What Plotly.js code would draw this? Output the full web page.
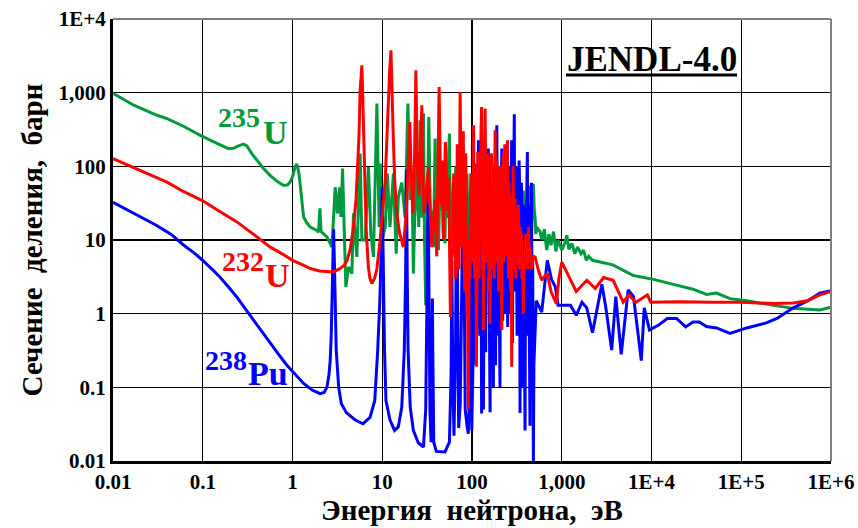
<!DOCTYPE html>
<html><head><meta charset="utf-8">
<script src="https://cdn.plot.ly/plotly-3.0.1.min.js"></script>
<style>html,body{margin:0;padding:0;background:#fff;}#chart{width:858px;height:528px;}</style>
</head><body><div id="chart"></div>
<script>
// ---- data: [neutron energy (eV), fission cross-section (barn)] ----
const u235Points = [
[0.01,980],[0.017,675],[0.031,493],[0.04,445],[0.061,350],[0.094,263],[0.144,205],[0.17,185],[0.194,174],[0.22,176],
[0.25,190],[0.285,200],[0.31,190],[0.35,150],[0.4,121],[0.47,95],[0.566,75],[0.68,62],[0.795,55],[0.88,56],
[0.94,61],[1.0,72],[1.05,90],[1.1,108],[1.14,100],[1.18,80],[1.22,55],[1.28,28],[1.33,20.5],[1.45,17],
[1.58,15],[1.87,13.5],[1.95,12.8],[2.02,27],[2.08,13],[2.42,11],[2.63,9.0],[2.75,8],[2.99,52],[3.17,23],
[3.34,52],[3.46,20.5],[3.61,93],[3.76,10],[3.93,2.3],[4.21,4.3],[4.59,3.5],[4.78,23],[5.21,5.9],[5.67,149],
[5.93,10],[6.46,10],[7.02,98],[7.46,12],[7.98,5.9],[8.71,711],[9.24,15],[9.48,109],[9.9,10],[10.8,15],
[11.4,80],[12.2,15],[13.3,80],[14.3,6.5],[15.1,38],[16.5,60],[18.0,20],[19.3,711],[20.5,35],[21.5,60],
[22.2,3.5],[23.0,20],[24.3,93],[25.5,15],[26.4,422],[27.6,20],[28.8,525],[29.6,10],[30.5,1.3],[31.4,5],
[33.0,468],[34.5,15],[35.6,25],[37.2,8],[38.8,238],[40.5,20],[42.3,7.3],[44,60],[45,25],[46,80],
[47,30],[48,12],[49,40],[50,9],[51,50],[52,100],[53,20],[54,30],[55,150],[56,278],
[57,40],[58,15],[59.6,8],[61,30],[62,60],[63,15],[64,20],[65,70],[66,100],[67,25],
[68,12],[69.5,60],[71,134],[72.5,30],[74,20],[75.5,70],[77,40],[78.5,15],[80,10],[82,50],
[84,60],[86,20],[88,80],[89.5,20],[91,1.5],[93,20],[95,40],[97.5,60],[100,20],[102.5,50],
[105,80],[107.5,30],[110,65],[112.5,30],[115,15],[117.5,50],[120,90],[122.5,25],[125,20],[127.5,60],
[130,70],[132.5,20],[135,10],[138,50],[142,80],[145,30],[148,20],[151,60],[155,90],[157.5,30],
[160,15],[164,50],[168,60],[171.5,20],[175,12],[178.5,50],[182,80],[186,30],[190,20],[194,70],
[198,60],[201.5,20],[205,10],[208.5,40],[212,70],[216,30],[220,15],[225,60],[230,50],[235,20],
[240,12],[245,50],[250,60],[257,30],[265,80],[272,40],[280,20],[287,50],[295,60],[305,25],
[315,52],[322,25],[330,15],[340,40],[350,45],[361,20],[373,47],[381,25],[390,15],[400,30],
[410,35],[418,15],[425,20],[434,35],[443,55],[451,20],[460,13],[471,30],[483,58],[494,25],
[505,20],[515,12],[527,15],[573,13],[600,10],[640,14],[680,7.3],[720,12],[760,8.5],[810,13],
[860,7],[910,10],[1000,7.3],[1080,9],[1140,11.6],[1200,7.5],[1300,9],[1400,6.5],[1500,8],[1640,6.5],
[1750,7.3],[1880,5.3],[2000,6],[2200,5.3],[3700,4.6],[6300,3.3],[10500,2.92],[17500,2.5],[29000,2.15],[41000,1.82],
[53000,1.9],[75000,1.6],[115000,1.5],[227000,1.3],[380000,1.18],[752000,1.12],[1000000,1.22]
];

const u232Points = [
[0.01,127],[0.015,103],[0.02,88],[0.03,72],[0.04,61],[0.06,46],[0.1,34],[0.15,25],[0.24,17.6],[0.35,12.5],
[0.45,10],[0.566,8],[0.8,6.3],[1.0,5.3],[1.3,4.6],[1.58,4.1],[2.0,3.8],[2.63,3.7],[3.0,3.8],[3.4,4.1],
[3.8,4.6],[4.05,5.3],[4.4,7.5],[4.78,15],[5.1,35],[5.3,80],[5.5,250],[5.67,1050],[5.8,2000],[5.93,2350],
[6.05,1000],[6.2,226],[6.4,50],[6.6,15],[7.0,4.3],[7.3,3],[7.66,2.56],[8.2,3],[8.7,4],[9.1,6],
[9.48,10],[10.1,25],[10.8,65],[11.2,200],[11.6,640],[12.1,2000],[12.5,3760],[12.8,1000],[13.3,226],[13.8,60],
[14.5,23],[15.5,13],[16.5,10],[17.2,8],[18.6,25],[19.6,150],[20.3,400],[21.0,80],[22.0,23],[22.8,100],
[23.7,2010],[24.6,100],[25.6,40],[26.6,150],[27.6,674],[28.5,60],[29.3,23],[30.6,40],[32.7,98],[34.5,20],
[35.6,8],[37.5,20],[38.8,35],[40.5,6],[43,1190],[45,30],[46.5,120],[48,10],[50.5,214],[53,25],
[55,70],[57.5,0.9],[59,5],[61,8],[62.5,80],[64,50],[65.5,3],[67,5],[68.5,200],[70,100],
[71.5,4],[73.7,1020],[75.5,20],[77,8],[78.5,100],[80,300],[81.5,5],[83,2],[85,150],[87,20],
[89,2],[91,0.05],[93,10],[95,3],[97,80],[99,40],[101,5],[104,360],[107,3],[108.5,90],
[110,50],[112,0.19],[114,20],[116,157],[118,10],[120,3],[122,100],[124,20],[126,300],[128,640],
[131,4],[132.5,50],[134,0.6],[137,30],[140,608],[143,20],[145,5],[147.5,80],[150,150],[152.5,10],
[155,2],[157,30],[159,0.73],[161,8],[163,60],[165,150],[167,4],[169.5,40],[172,100],[174.5,10],
[177,3],[179,80],[181,308],[183.5,10],[186,5],[189,120],[192,80],[195,10],[198,2],[201,40],
[204,24],[207,100],[210,3],[212.5,15],[215,0.6],[217.5,30],[220,50],[223,150],[226,5],[229,60],
[232,200],[235,20],[238,6],[241,100],[244,80],[246,150],[248,226],[251,20],[255,3],[258,60],
[262,30],[266,8],[270,2],[273,20],[277,0.19],[281,40],[285,20],[288,100],[292,4],[297,15],
[302,36],[306,8],[310,3],[314,25],[318,12],[323,5],[329,30],[334,10],[340,4],[345,15],
[350,8],[355,12],[360,3],[366,6],[373,1.0],[380,4],[390,6],[398,12],[407,10],[416,4],
[425,15],[435,6],[445,8],[460,4],[480,6],[505,5.9],[545,4],[598,2.84],[640,3.2],[691,3.5],
[760,2],[870,1.37],[930,3],[1000,5],[1450,2.0],[1900,2.84],[2360,2.2],[2930,3.1],[3740,2.84],[4840,1.43],
[5600,1.8],[6700,1.43],[9000,1.8],[9800,1.43],[20000,1.45],[50000,1.43],[100000,1.43],[230000,1.37],[380000,1.4],[550000,1.5],
[750000,1.8],[1000000,2.0]
];

const pu238Points = [
[0.01,32.5],[0.015,25],[0.02,21],[0.03,16],[0.045,11.8],[0.06,8.7],[0.08,6.7],[0.1,5.3],[0.13,3.9],[0.157,3.1],
[0.2,2.2],[0.24,1.68],[0.3,1.15],[0.367,0.82],[0.45,0.58],[0.565,0.39],[0.7,0.28],[0.866,0.2],[1.05,0.155],[1.33,0.113],
[1.65,0.092],[2.03,0.082],[2.25,0.085],[2.42,0.1],[2.55,0.15],[2.63,0.23],[2.7,0.5],[2.75,1.5],[2.8,5],[2.87,14],
[2.93,5],[2.98,1.2],[3.07,0.32],[3.27,0.1],[3.5,0.06],[4.0,0.045],[5.0,0.036],[6.1,0.032],[7.3,0.039],[8.25,0.066],
[8.9,0.32],[9.4,1.5],[9.7,6],[9.98,52],[10.2,6],[10.4,1.2],[10.6,0.32],[11.0,0.066],[12.2,0.036],[13.7,0.026],
[15.1,0.029],[16.5,0.054],[17.6,0.32],[18.2,3],[18.6,90],[19.0,3],[19.4,0.32],[20.5,0.054],[22.2,0.026],[25.2,0.0177],
[28.8,0.0155],[30.5,0.05],[31.5,1],[32.5,50],[33.3,1],[34,0.05],[35,0.018],[35.9,0.3],[36.2,1.6],[36.6,0.3],
[37.5,0.018],[40,0.0135],[50,0.0133],[56,0.018],[58.5,0.15],[59.7,5.3],[61,0.15],[63,0.022],[65.5,0.3],[67.5,72],
[69.5,0.1],[71,0.028],[74,0.06],[77,1.5],[78.5,10],[80.5,165],[82,2],[84,0.05],[88,0.03],[91,0.0235],
[94,0.1],[96,20],[97.5,2],[99.5,0.026],[103,0.3],[105,20],[107,109],[109,5],[111,0.2],[114,2],
[116,40],[118,226],[120,5],[122,0.5],[124,60],[126,20],[128,0.044],[131,3],[132.5,80],[134,0.05],
[136,10],[138,40],[140,2],[142,0.3],[144.5,30],[147,5],[149.5,60],[152,174],[154,10],[156,0.3],
[159,0.046],[161,5],[163,1],[165,50],[168,30],[170.5,2],[173,0.1],[175.5,40],[178,10],[180.5,1],
[183,0.2],[186,60],[189,361],[191.5,20],[194,0.5],[197,40],[200,3],[202.5,1],[205,0.1],[207.5,10],
[210,20],[212.5,80],[215,174],[217.5,10],[220,0.8],[224,100],[228,30],[232,5],[236,1],[240,80],
[245,10],[247.5,2],[250,0.66],[254,30],[258,60],[261.5,10],[265,100],[267.5,5],[270,1],[273.5,60],
[277,226],[280,10],[283,0.4],[286.5,20],[290,5],[293,120],[296,508],[299,10],[302,2],[306,100],
[310,40],[314,5],[318,0.5],[321.5,30],[325,100],[328.5,10],[332,5],[335,120],[338,65],[340.5,5],
[343,0.045],[346.5,10],[350,2],[355,60],[360,20],[365,1],[370,0.1],[375,30],[380,3],[385,0.5],
[390,0.026],[395,5],[400,1],[407,40],[414,157],[417,5],[420,0.5],[425,30],[430,5],[436,0.5],
[443,0.03],[449,5],[455,0.5],[459,60],[463,20],[466.5,2],[470,0.3],[475,5],[479,0.1],[483,0.0092],
[489,0.2],[495,0.3],[502,0.8],[510,1.0],[520,1.5],[598,1.05],[690,5.3],[770,2.9],[850,2.3],[910,1.3],
[1080,1.3],[1250,1.3],[1450,0.95],[1680,1.43],[1900,1.2],[2200,0.55],[2800,2.5],[3100,1.2],[3600,0.32],[4000,1.7],
[4600,0.28],[5500,2.1],[6300,1.7],[7700,0.23],[8300,1.2],[9500,0.6],[12000,0.7],[15000,0.86],[19000,0.86],[24000,0.66],
[29000,0.77],[34000,0.77],[41000,0.67],[53000,0.64],[75000,0.54],[115000,0.64],[190000,0.75],[250000,0.86],[380000,1.2],[550000,1.5],
[750000,1.9],[1000000,2.05]
];

const xTickVals = [0.01,0.1,1,10,100,1000,1e4,1e5,1e6];
const xTickText = ['0.01','0.1','1','10','100','1,000','1E+4','1E+5','1E+6'];
const yTickVals = [0.01,0.1,1,10,100,1000,1e4];
const yTickText = ['0.01','0.1','1','10','100','1,000','1E+4'];

const GREEN = '#009A3E', RED = '#FF0000', BLUE = '#0000FF';
const FONT = 'Liberation Serif';

function series(points, color, name) {
  return {x: points.map(p => p[0]), y: points.map(p => p[1]), mode: 'lines',
          line: {color: color, width: 3}, name: name};
}
const traces = [
  series(u235Points, GREEN, '235U'),
  series(pu238Points, BLUE, '238Pu'),
  series(u232Points, RED, '232U')
];

// pixel helpers for label placement (plot area 113..831 x 19..461)
const px = v => (v - 113) / 718;
const py = v => (461 - v) / 442;

function lab(text, x, y, size, color) {
  return {text: text, xref: 'paper', yref: 'paper', x: px(x), y: py(y), xanchor: 'center', yanchor: 'middle',
          showarrow: false, font: {family: FONT, size: size, color: color, weight: 'bold'}};
}

const layout = {
  width: 858, height: 528,
  margin: {l: 113, r: 27, t: 19, b: 67},
  paper_bgcolor: '#fff', plot_bgcolor: '#fff',
  showlegend: false,
  xaxis: {
    type: 'log', range: [-2, 6], tickvals: xTickVals, ticktext: xTickText,
    showgrid: true, gridcolor: '#000', gridwidth: 1.2, zeroline: false,
    showline: true, linecolor: '#000', linewidth: 3, ticks: '',
    tickfont: {family: FONT, size: 21, color: '#000', weight: 'bold'},
    title: {text: 'Энергия  нейтрона,  эВ', font: {family: FONT, size: 29, color: '#000', weight: 'bold'}, standoff: 6}
  },
  yaxis: {
    type: 'log', range: [-2, 4], tickvals: yTickVals, ticktext: yTickText,
    showgrid: true, gridcolor: '#000', gridwidth: 1.2, zeroline: false,
    showline: true, linecolor: '#000', linewidth: 3, ticks: '',
    tickfont: {family: FONT, size: 21, color: '#000', weight: 'bold'},
    title: {text: 'Сечение  деления,  барн', font: {family: FONT, size: 29, color: '#000', weight: 'bold'}, standoff: 8}
  },
  shapes: [
    {type: 'line', xref: 'paper', yref: 'paper', x0: 0, x1: 1, y0: 1, y1: 1, line: {color: '#808080', width: 2}},
    {type: 'line', xref: 'paper', yref: 'paper', x0: 1, x1: 1, y0: 0, y1: 1, line: {color: '#808080', width: 2}},
    {type: 'line', xref: 'paper', yref: 'paper', x0: px(566), x1: px(737), y0: py(75), y1: py(75), line: {color: '#000', width: 3}}
  ],
  annotations: [
    lab('JENDL-4.0', 651.5, 59, 35, '#000'),
    lab('235', 239, 118, 28, GREEN),
    lab('U', 275, 132, 34, GREEN),
    lab('232', 243, 261, 28, RED),
    lab('U', 277, 275, 34, RED),
    lab('238', 226, 360, 28, BLUE),
    lab('Pu', 268, 373, 34, BLUE)
  ]
};

Plotly.newPlot('chart', traces, layout, {displayModeBar: false, staticPlot: true});
</script>
</body></html>
